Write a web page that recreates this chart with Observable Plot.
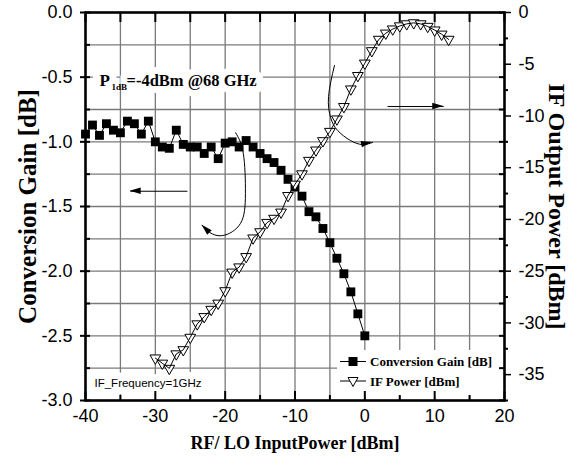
<!DOCTYPE html>
<html><head><meta charset="utf-8">
<script src="https://cdn.jsdelivr.net/npm/d3@7"></script>
<script src="https://cdn.jsdelivr.net/npm/@observablehq/plot@0.6"></script>
<style>
html,body{margin:0;padding:0;background:#fff;}
#chart svg{display:block}
</style></head><body><div id="chart"></div>
<script>
// ---- data ----
const gainInput = [-40,-39,-38,-37,-36,-35,-34,-33,-32,-31,-30,-29,-28,-27,-26,-25,-24,-23,-22,-21,-20,-19,-18,-17,-16,-15,-14,-13,-12,-11,-10,-9,-8,-7,-6,-5,-4,-3,-2,-1,0];
const gainDb = [-0.94,-0.87,-0.95,-0.86,-0.91,-0.93,-0.84,-0.86,-0.94,-0.84,-1.00,-1.04,-1.05,-0.91,-1.02,-1.04,-1.04,-1.09,-1.04,-1.13,-1.01,-1.00,-1.04,-0.99,-1.04,-1.09,-1.13,-1.16,-1.22,-1.29,-1.35,-1.42,-1.54,-1.58,-1.67,-1.78,-1.90,-2.02,-2.16,-2.33,-2.50];
const ifInput = [-30,-29,-28,-27,-26,-25,-24,-23,-22,-21,-20,-19,-18,-17,-16,-15,-14,-13,-12,-11,-10,-9,-8,-7,-6,-5,-4,-3,-2,-1,0,1,2,3,4,5,6,7,8,9,10,11,12];
const ifDbm = [-33.4,-33.9,-34.4,-33.0,-32.6,-31.4,-30.1,-29.4,-28.7,-28.1,-26.9,-25.1,-24.6,-23.6,-21.8,-21.2,-20.3,-19.9,-19.3,-17.7,-16.6,-15.6,-14.3,-13.3,-12.4,-11.5,-10.3,-9.1,-7.4,-6.1,-4.9,-3.7,-2.6,-2.0,-1.6,-1.3,-1.1,-1.0,-1.1,-1.35,-1.7,-2.1,-2.6];

// ---- ticks ----
const xLabelTicks = [-40,-30,-20,-10,0,10,20];
const xMinorTicks = [-35,-25,-15,-5,5,15];
const xGridTicks = [-35,-30,-25,-20,-15,-10,-5,0,5,10,15];
const leftLabelTicks = [0,-0.5,-1,-1.5,-2,-2.5,-3];
const leftMinorTicks = [0,-0.25,-0.5,-0.75,-1,-1.25,-1.5,-1.75,-2,-2.25,-2.5,-2.75,-3];
const yGridTicks = [-0.25,-0.5,-0.75,-1,-1.25,-1.5,-1.75,-2,-2.25,-2.5,-2.75];
const rightLabelTicks = [0,-5,-10,-15,-20,-25,-30,-35];
const rightMinorTicks = [-2.5,-7.5,-12.5,-17.5,-22.5,-27.5,-32.5,-37.5];

// ---- text ----
const xTitle = "RF/ LO InputPower [dBm]";
const yLeftTitle = "Conversion Gain [dB]";
const yRightTitle = "IF Output Power [dBm]";
const seriesNames = ["Conversion Gain [dB]", "IF Power [dBm]"];
const noteFreq = "IF_Frequency=1GHz";
const noteP = ["P", "1dB", "=-4dBm @68 GHz"];

// right axis range (dBm) mapped onto the left axis range (dB)
const rightDomain = [-37.5, 0];
const leftDomain = [-3, 0];
const toLeft = v => v * (leftDomain[0] / rightDomain[0]);

// annotation arrows (data coordinates)
const arrowStraight = [
  {x1: -25.4, y1: -1.382, x2: -33.6, y2: -1.382},
  {x1: 3.25, y1: -0.727, x2: 11.3, y2: -0.727}
];
const curveA = [[-18.5,-0.93],[-17.4,-1.09],[-17.1,-1.40],[-17.8,-1.63],[-20.4,-1.725],[-22.4,-1.693],[-23.3,-1.645]];
const curveB = [[-4.35,-0.41],[-5.2,-0.65],[-4.9,-0.812],[-3.9,-0.912],[-2.05,-0.99],[-0.33,-1.021],[1.1,-1.005]];

const gainData = gainInput.map((x, i) => ({x, v: gainDb[i]}));
const ifData = ifInput.map((x, i) => ({x, v: toLeft(ifDbm[i])}));

const serif = "'Liberation Serif','Times New Roman',serif";
const sans = "'Liberation Sans',Arial,sans-serif";
const blank = () => "";

function heads(list) {
  return (index, scales) => {
    const g = d3.create("svg:g");
    for (const h of list) {
      const x1 = scales.x(h.x1), y1 = scales.y(h.y1), x2 = scales.x(h.x2), y2 = scales.y(h.y2);
      const a = Math.atan2(y2 - y1, x2 - x1);
      const L = 11, W = 3.2;
      const bx = x2 - L * Math.cos(a), by = y2 - L * Math.sin(a);
      const px = -Math.sin(a) * W, py = Math.cos(a) * W;
      g.append("path").attr("d", `M${x2},${y2}L${bx + px},${by + py}L${bx - px},${by - py}Z`).attr("fill", "#000");
    }
    return g.node();
  };
}

function legend(index, scales, values, dims) {
  const g = d3.create("svg:g");
  const right = dims.width - dims.marginRight;
  const bottom = dims.height - dims.marginBottom;
  const x0 = right - 167, y0 = bottom - 50;
  g.append("rect").attr("x", x0).attr("y", y0).attr("width", 163).attr("height", 46).attr("fill", "#fff");
  const rows = [bottom - 38.5, bottom - 19];
  const mx = x0 + 16;
  rows.forEach((ry, i) => {
    g.append("line").attr("x1", x0 + 3).attr("x2", x0 + 29).attr("y1", ry).attr("y2", ry).attr("stroke", "#000").attr("stroke-width", 1);
    if (i === 0) {
      g.append("rect").attr("x", mx - 4.5).attr("y", ry - 4.5).attr("width", 9).attr("height", 9).attr("fill", "#000");
    } else {
      g.append("path").attr("d", `M${mx - 5},${ry - 3.5}L${mx + 5},${ry - 3.5}L${mx},${ry + 5.5}Z`).attr("fill", "#fff").attr("stroke", "#000");
    }
    g.append("text").attr("x", x0 + 33).attr("y", ry).attr("dy", "0.35em").attr("text-anchor", "start")
      .attr("font-family", serif).attr("font-weight", "bold").attr("font-size", 13).attr("fill", "#000")
      .text(seriesNames[i]);
  });
  return g.node();
}

const gridStyle = {stroke: "#7a7a7a", strokeOpacity: 1, strokeWidth: 1.3};
const tickStyle = {stroke: "#000", strokeWidth: 2, tickFormat: blank, label: null};
const halo = {stroke: "#fff", strokeWidth: 14, paintOrder: "stroke"};

const chart = Plot.plot({
  width: 576, height: 461,
  marginLeft: 85, marginRight: 72, marginTop: 12, marginBottom: 61,
  x: {domain: [-40, 20], label: null},
  y: {domain: leftDomain, label: null},
  style: {fontFamily: sans, fontSize: "15px", color: "#000", background: "#fff", overflow: "visible"},
  marks: [
    Plot.gridX({ticks: xGridTicks, ...gridStyle}),
    Plot.gridY({ticks: yGridTicks, ...gridStyle}),
    // text annotations with white backing
    Plot.text([noteFreq], {frameAnchor: "bottom-left", dx: 9, dy: -17, textAnchor: "start", lineAnchor: "middle", fontSize: 11.5, fontFamily: sans, fill: "#000", ...halo}),
    Plot.text([noteP[0]], {frameAnchor: "top-left", dx: 14, dy: 68, textAnchor: "start", lineAnchor: "middle", fontSize: 17, fontWeight: "bold", fontFamily: serif, fill: "#000", ...halo}),
    Plot.text([noteP[2]], {frameAnchor: "top-left", dx: 41, dy: 68, textAnchor: "start", lineAnchor: "middle", fontSize: 16.5, fontWeight: "bold", fontFamily: serif, fill: "#000", ...halo}),
    Plot.text([noteP[1]], {frameAnchor: "top-left", dx: 26, dy: 75, textAnchor: "start", lineAnchor: "middle", fontSize: 9, fontWeight: "bold", fontFamily: serif, fill: "#000"}),
    // data
    Plot.line(gainData, {x: "x", y: "v", stroke: "#000", strokeWidth: 1}),
    Plot.dot(gainData, {x: "x", y: "v", symbol: "square", r: 5, fill: "#000"}),
    Plot.dot(ifData, {x: "x", y: "v", symbol: "triangle", rotate: 180, r: 4, fill: "#fff", stroke: "#000", strokeWidth: 1}),
    Plot.line(ifData, {x: "x", y: "v", stroke: "#000", strokeWidth: 1}),
    // arrows
    Plot.link(arrowStraight, {x1: "x1", y1: "y1", x2: "x2", y2: "y2", stroke: "#000", strokeWidth: 1}),
    Plot.line(curveA, {x: d => d[0], y: d => d[1], curve: "natural", stroke: "#000", strokeWidth: 1}),
    Plot.line(curveB, {x: d => d[0], y: d => d[1], curve: "natural", stroke: "#000", strokeWidth: 1}),
    heads([
      ...arrowStraight,
      {x1: curveA[5][0], y1: curveA[5][1], x2: curveA[6][0], y2: curveA[6][1]},
      {x1: curveB[5][0], y1: curveB[5][1], x2: curveB[6][0], y2: curveB[6][1]}
    ]),
    legend,
    // ticks
    Plot.axisY({anchor: "left", ticks: leftLabelTicks, tickSize: 5, tickPadding: 8, tickFormat: d => d.toFixed(1), fontSize: 18, stroke: "#000", strokeWidth: 2, label: null}),
    Plot.axisY({anchor: "left", ticks: leftMinorTicks, tickSize: 5, dx: 5, ...tickStyle}),
    Plot.axisY({anchor: "right", ticks: leftMinorTicks, tickSize: 6, dx: -6, ...tickStyle}),
    Plot.axisY({anchor: "right", ticks: rightLabelTicks.map(toLeft), tickSize: 6, tickPadding: 8, tickFormat: d => String(Math.round(d / toLeft(1))), fontSize: 18, stroke: "#000", strokeWidth: 1.5, label: null}),
    Plot.axisY({anchor: "right", ticks: rightMinorTicks.map(toLeft), tickSize: 3, ...tickStyle}),
    Plot.axisX({anchor: "bottom", ticks: xLabelTicks, tickSize: 9, dy: -9, ...tickStyle}),
    Plot.axisX({anchor: "bottom", ticks: xMinorTicks, tickSize: 5, dy: -5, ...tickStyle}),
    Plot.axisX({anchor: "bottom", ticks: xLabelTicks, tickSize: 0, tickPadding: 9, tickFormat: d => String(d), fontSize: 18, label: null}),
    Plot.axisX({anchor: "top", ticks: xLabelTicks, tickSize: 9, dy: 9, ...tickStyle}),
    Plot.axisX({anchor: "top", ticks: xMinorTicks, tickSize: 9, dy: 9, ...tickStyle}),
    Plot.frame({stroke: "#000", strokeWidth: 2.6}),
    // titles
    Plot.text([yLeftTitle], {frameAnchor: "left", dx: -58, rotate: -90, textAnchor: "middle", lineAnchor: "middle", fontSize: 25, fontWeight: "bold", fontFamily: serif, fill: "#000"}),
    Plot.text([yRightTitle], {frameAnchor: "right", dx: 52, rotate: 90, textAnchor: "middle", lineAnchor: "middle", fontSize: 24, fontWeight: "bold", fontFamily: serif, fill: "#000"}),
    Plot.text([xTitle], {frameAnchor: "bottom", dy: 43, textAnchor: "middle", lineAnchor: "middle", fontSize: 18, fontWeight: "bold", fontFamily: serif, fill: "#000"})
  ]
});
document.getElementById("chart").appendChild(chart);
</script>
</body></html>
